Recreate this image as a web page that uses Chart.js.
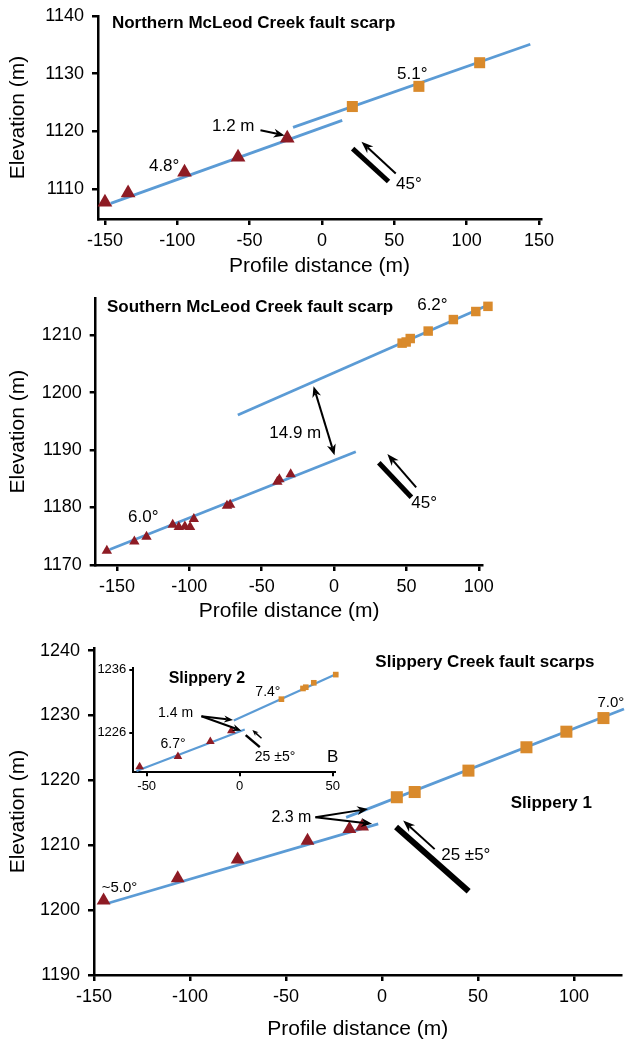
<!DOCTYPE html>
<html>
<head>
    <title>Fault scarp profiles</title>
    <meta charset="UTF-8">
    <script src="https://cdn.jsdelivr.net/npm/chart.js@4/dist/chart.umd.min.js"></script>
    <style>
        body { margin: 0; background: #fff; width: 630px; height: 1044px; position: relative; overflow: hidden; }
        canvas { position: absolute; }
    </style>
</head>
<body>
    <canvas id="north" width="630" height="290" style="left:0;top:0"></canvas>
    <canvas id="south" width="630" height="350" style="left:0;top:280px"></canvas>
    <canvas id="slip1" width="630" height="419" style="left:0;top:625px"></canvas>
    <canvas id="slip2" width="260" height="140" style="left:90px;top:655px"></canvas>

    <script>
        // Northern McLeod Creek fault scarp
        const nTriX = [-150, -134, -95, -58, -24];
        const nTriY = [1107.7, 1109.3, 1112.9, 1115.5, 1118.8];
        const nSqX = [21, 67, 109];
        const nSqY = [1124.3, 1127.8, 1131.9];
        const nLowFitX = [-146, 14];
        const nLowFitY = [1107.5, 1121.9];
        const nUpFitX = [-20, 144];
        const nUpFitY = [1120.7, 1135.1];
        const nXTicks = [-150, -100, -50, 0, 50, 100, 150];
        const nYTicks = [1110, 1120, 1130, 1140];

        // Southern McLeod Creek fault scarp
        const sTriX = [-157, -138, -129.6, -111.5, -107.3, -103.1, -99.5, -96.9, -74, -71.8, -39.2, -37.8, -30];
        const sTriY = [1172.5, 1174.1, 1174.9, 1177, 1176.6, 1176.7, 1176.6, 1178, 1180.3, 1180.5, 1184.5, 1184.9, 1185.8];
        const sSqX = [47, 49.8, 52.6, 65, 82.4, 97.9, 106.3];
        const sSqY = [1208.6, 1208.8, 1209.4, 1210.7, 1212.7, 1214.1, 1215];
        const sLowFitX = [-155, 15];
        const sLowFitY = [1172.7, 1189.7];
        const sUpFitX = [-66.5, 108];
        const sUpFitY = [1196.1, 1215.4];
        const sXTicks = [-150, -100, -50, 0, 50, 100];
        const sYTicks = [1170, 1180, 1190, 1200, 1210];

        // Slippery 1
        const aTriX = [-145, -106.4, -75.2, -38.8, -17, -10.4];
        const aTriY = [1201.5, 1204.9, 1207.8, 1210.7, 1212.5, 1212.9];
        const aSqX = [7.7, 17, 45, 75.2, 96, 115.3];
        const aSqY = [1217.4, 1218.2, 1221.5, 1225.1, 1227.5, 1229.6];
        const aLowFitX = [-142.3, -2];
        const aLowFitY = [1201.1, 1213.3];
        const aUpFitX = [-18.7, 126];
        const aUpFitY = [1214.3, 1231];
        const aXTicks = [-150, -100, -50, 0, 50, 100];
        const aYTicks = [1190, 1200, 1210, 1220, 1230, 1240];

        // Slippery 2 (inset)
        const bTriX = [-53.8, -33.2, -15.8, -4.5];
        const bTriY = [1220.6, 1222.2, 1224.6, 1226.3];
        const bSqX = [22.4, 34, 35.5, 39.8, 51.6];
        const bSqY = [1231.3, 1233, 1233.2, 1233.9, 1235.2];
        const bLowFitX = [-55.5, 2.7];
        const bLowFitY = [1219.9, 1226.5];
        const bUpFitX = [-3.2, 52.8];
        const bUpFitY = [1227.9, 1235.4];
        const bXTicks = [-50, 0, 50];
        const bYTicks = [1226, 1236];

        const RED = '#8e1b24';
        const ORANGE = '#d98a2c';
        const BLUE = '#5b9bd5';
        const FONT = '"Liberation Sans", Arial, Helvetica, sans-serif';

        Chart.defaults.font.family = FONT;
        Chart.defaults.color = '#000';

        const pts = (xs, ys) => xs.map((x, i) => ({ x: x, y: ys[i] }));

        function arrowHead(ctx, x1, y1, x2, y2, len, wid) {
            const a = Math.atan2(y2 - y1, x2 - x1);
            const c = Math.cos(a), s = Math.sin(a);
            ctx.beginPath();
            ctx.moveTo(x2, y2);
            ctx.lineTo(x2 - len * c + wid / 2 * s, y2 - len * s - wid / 2 * c);
            ctx.lineTo(x2 - len * 0.7 * c, y2 - len * 0.7 * s);
            ctx.lineTo(x2 - len * c - wid / 2 * s, y2 - len * s + wid / 2 * c);
            ctx.closePath();
            ctx.fill();
        }

        // labels, arrows and fault bars, placed in data units
        function notesPlugin(notes) {
            return {
                id: 'notes',
                afterDatasetsDraw(chart) {
                    const ctx = chart.ctx;
                    const px = v => chart.scales.x.getPixelForValue(v);
                    const py = v => chart.scales.y.getPixelForValue(v);
                    ctx.save();
                    ctx.fillStyle = '#000';
                    ctx.strokeStyle = '#000';
                    (notes.bars || []).forEach(b => {
                        ctx.lineWidth = b.w;
                        ctx.beginPath();
                        ctx.moveTo(px(b.x1), py(b.y1));
                        ctx.lineTo(px(b.x2), py(b.y2));
                        ctx.stroke();
                    });
                    (notes.arrows || []).forEach(a => {
                        const x1 = px(a.x1), y1 = py(a.y1), x2 = px(a.x2), y2 = py(a.y2);
                        const len = a.head || 11, wid = a.headW || 9;
                        const ang = Math.atan2(y2 - y1, x2 - x1);
                        const back = len * 0.7;
                        ctx.lineWidth = a.lw || 2;
                        ctx.beginPath();
                        ctx.moveTo(a.both ? x1 + back * Math.cos(ang) : x1, a.both ? y1 + back * Math.sin(ang) : y1);
                        ctx.lineTo(x2 - back * Math.cos(ang), y2 - back * Math.sin(ang));
                        ctx.stroke();
                        arrowHead(ctx, x1, y1, x2, y2, len, wid);
                        if (a.both) arrowHead(ctx, x2, y2, x1, y1, len, wid);
                    });
                    ctx.textAlign = 'left';
                    ctx.textBaseline = 'middle';
                    (notes.texts || []).forEach(t => {
                        ctx.font = (t.bold ? 'bold ' : '') + t.size + 'px ' + FONT;
                        ctx.fillText(t.t, px(t.x), py(t.y));
                    });
                    ctx.restore();
                }
            };
        }

        function axis(o) {
            return {
                type: 'linear',
                position: o.position,
                min: o.min,
                max: o.max,
                afterBuildTicks: s => { s.ticks = o.ticks.map(v => ({ value: v })); },
                afterFit: s => {
                    if (o.size != null) {
                        if (o.position === 'left') s.width = o.size; else s.height = o.size;
                    }
                    s.paddingTop = s.paddingBottom = s.paddingLeft = s.paddingRight = 0;
                },
                grid: { drawOnChartArea: false, drawTicks: true, tickLength: o.tickLen, color: '#000', lineWidth: o.lw },
                border: { display: true, color: '#000', width: o.lw },
                ticks: {
                    font: { size: o.fs },
                    padding: o.pad,
                    color: '#000',
                    maxRotation: 0,
                    autoSkip: false,
                    callback: v => String(v)
                },
                title: o.title
                    ? { display: true, text: o.title, font: { size: 21 }, color: '#000', padding: o.titlePad }
                    : { display: false }
            };
        }

        function panel(id, p) {
            return new Chart(document.getElementById(id), {
                type: 'scatter',
                data: {
                    datasets: [
                        { data: pts(p.triX, p.triY), pointStyle: 'triangle', pointRadius: p.triR,
                          pointBackgroundColor: RED, pointBorderColor: RED, pointBorderWidth: 0, order: 0, clip: false },
                        { data: pts(p.sqX, p.sqY), pointStyle: 'rect', pointRadius: p.sqR,
                          pointBackgroundColor: ORANGE, pointBorderColor: ORANGE, pointBorderWidth: 0, order: 0, clip: false },
                        { data: pts(p.lowX, p.lowY), showLine: true, borderColor: BLUE, borderWidth: p.lineW,
                          pointRadius: 0, fill: false, order: 1, clip: false },
                        { data: pts(p.upX, p.upY), showLine: true, borderColor: BLUE, borderWidth: p.lineW,
                          pointRadius: 0, fill: false, order: 1, clip: false }
                    ]
                },
                options: {
                    responsive: false,
                    animation: false,
                    events: [],
                    layout: { padding: p.padding },
                    plugins: { legend: { display: false }, tooltip: { enabled: false } },
                    scales: { x: p.x, y: p.y }
                },
                plugins: [notesPlugin(p.notes)]
            });
        }

        panel('north', {
            triX: nTriX, triY: nTriY, sqX: nSqX, sqY: nSqY,
            lowX: nLowFitX, lowY: nLowFitY, upX: nUpFitX, upY: nUpFitY,
            triR: 8.5, sqR: 7.8, lineW: 2.8,
            padding: { left: 0, top: 16, right: 89, bottom: 0 },
            x: axis({ position: 'bottom', min: -154.8, max: 151.4, ticks: nXTicks, size: 71, fs: 18, tickLen: 6, pad: 5, lw: 2.5,
                      title: 'Profile distance (m)', titlePad: { top: 0, bottom: 10.7 } }),
            y: axis({ position: 'left', min: 1104.8, max: 1140, ticks: nYTicks, size: 98, fs: 18, tickLen: 6, pad: 8, lw: 2.5,
                      title: 'Elevation (m)', titlePad: { top: 5.4, bottom: 0 } }),
            notes: {
                texts: [
                    { t: 'Northern McLeod Creek fault scarp', x: -145.2, y: 1138.7, bold: true, size: 17 },
                    { t: '5.1°', x: 51.9, y: 1129.9, size: 17 },
                    { t: '1.2 m', x: -76, y: 1120.8, size: 17 },
                    { t: '4.8°', x: -119.6, y: 1114, size: 17 },
                    { t: '45°', x: 51.2, y: 1110.8, size: 17 }
                ],
                arrows: [
                    { x1: -42.5, y1: 1120.2, x2: -25.8, y2: 1119.3 },
                    { x1: 51, y1: 1112.7, x2: 27.3, y2: 1118.2, head: 12 }
                ],
                bars: [{ x1: 21.2, y1: 1117, x2: 46, y2: 1111.3, w: 5 }]
            }
        });

        panel('south', {
            triX: sTriX, triY: sTriY, sqX: sSqX, sqY: sSqY,
            lowX: sLowFitX, lowY: sLowFitY, upX: sUpFitX, upY: sUpFitY,
            triR: 6, sqR: 6.7, lineW: 2.8,
            padding: { left: 0, top: 18.3, right: 147.4, bottom: 0 },
            x: axis({ position: 'bottom', min: -164.7, max: 102.6, ticks: sXTicks, size: 65, fs: 18, tickLen: 6, pad: 5, lw: 2.5,
                      title: 'Profile distance (m)', titlePad: { top: 0, bottom: 5.7 } }),
            y: axis({ position: 'left', min: 1170, max: 1216.4, ticks: sYTicks, size: 95.7, fs: 18, tickLen: 6, pad: 8, lw: 2.5,
                      title: 'Elevation (m)', titlePad: { top: 5.4, bottom: 0 } }),
            notes: {
                texts: [
                    { t: 'Southern McLeod Creek fault scarp', x: -156.9, y: 1214.9, bold: true, size: 17 },
                    { t: '6.2°', x: 57.4, y: 1215.2, size: 17 },
                    { t: '14.9 m', x: -44.8, y: 1192.9, size: 17 },
                    { t: '6.0°', x: -142.3, y: 1178.3, size: 17 },
                    { t: '45°', x: 53.3, y: 1180.8, size: 17 }
                ],
                arrows: [
                    { x1: -14.2, y1: 1201.1, x2: 0.3, y2: 1189.1, both: true },
                    { x1: 56.7, y1: 1183.5, x2: 36.8, y2: 1189.3, head: 12 }
                ],
                bars: [{ x1: 30.9, y1: 1187.8, x2: 53.4, y2: 1181.8, w: 5 }]
            }
        });

        panel('slip1', {
            triX: aTriX, triY: aTriY, sqX: aSqX, sqY: aSqY,
            lowX: aLowFitX, lowY: aLowFitY, upX: aUpFitX, upY: aUpFitY,
            triR: 8, sqR: 8.5, lineW: 2.8,
            padding: { left: 0, top: 23, right: 2, bottom: 0 },
            x: axis({ position: 'bottom', min: -150, max: 124.7, ticks: aXTicks, size: 69, fs: 18, tickLen: 6, pad: 5, lw: 2.5,
                      title: 'Profile distance (m)', titlePad: { top: 0, bottom: 2.1 } }),
            y: axis({ position: 'left', min: 1190, max: 1240.4, ticks: aYTicks, size: 94, fs: 18, tickLen: 6, pad: 8, lw: 2.5,
                      title: 'Elevation (m)', titlePad: { top: 5.4, bottom: 0 } }),
            notes: {
                texts: [
                    { t: 'Slippery Creek fault scarps', x: -3.5, y: 1238.2, bold: true, size: 17 },
                    { t: '7.0°', x: 112.2, y: 1232, size: 15 },
                    { t: 'Slippery 1', x: 67, y: 1216.5, bold: true, size: 17 },
                    { t: '2.3 m', x: -57.6, y: 1214.3, size: 16 },
                    { t: '25 ±5°', x: 30.8, y: 1208.5, size: 17 },
                    { t: '~5.0°', x: -146, y: 1203.4, size: 15 }
                ],
                arrows: [
                    { x1: -34.7, y1: 1214.3, x2: -7.3, y2: 1215.6 },
                    { x1: -34.7, y1: 1214.3, x2: -5.2, y2: 1213.3 },
                    { x1: 27.4, y1: 1209.4, x2: 11, y2: 1213.8, head: 12 }
                ],
                bars: [{ x1: 7.3, y1: 1212.8, x2: 45.1, y2: 1202.9, w: 6 }]
            }
        });

        panel('slip2', {
            triX: bTriX, triY: bTriY, sqX: bSqX, sqY: bSqY,
            lowX: bLowFitX, lowY: bLowFitY, upX: bUpFitX, upY: bUpFitY,
            triR: 5, sqR: 4, lineW: 2.2,
            padding: { left: 0, top: 13.3, right: 15, bottom: 0 },
            x: axis({ position: 'bottom', min: -57.2, max: 51.2, ticks: bXTicks, size: 22.7, fs: 13, tickLen: 4, pad: 2, lw: 2 }),
            y: axis({ position: 'left', min: 1219.7, max: 1236.2, ticks: bYTicks, size: 43.3, fs: 13, tickLen: 4, pad: 3, lw: 2 }),
            notes: {
                texts: [
                    { t: 'Slippery 2', x: -38.2, y: 1234.6, bold: true, size: 16 },
                    { t: '7.4°', x: 8.4, y: 1232.4, size: 14 },
                    { t: '1.4 m', x: -43.9, y: 1229.1, size: 14 },
                    { t: '6.7°', x: -42.6, y: 1224.1, size: 14 },
                    { t: '25 ±5°', x: 8.1, y: 1222.1, size: 14 },
                    { t: 'B', x: 46.9, y: 1222, size: 17 }
                ],
                arrows: [
                    { x1: -20.6, y1: 1228.6, x2: -3.6, y2: 1228, head: 9, headW: 7 },
                    { x1: -20.6, y1: 1228.6, x2: 0.9, y2: 1226.3, head: 9, headW: 7 },
                    { x1: 11.7, y1: 1225.1, x2: 6.8, y2: 1226.4, head: 6, headW: 5, lw: 1.5 }
                ],
                bars: [{ x1: 3.2, y1: 1225.6, x2: 10.8, y2: 1223.7, w: 2.5 }]
            }
        });
    </script>
</body>
</html>
